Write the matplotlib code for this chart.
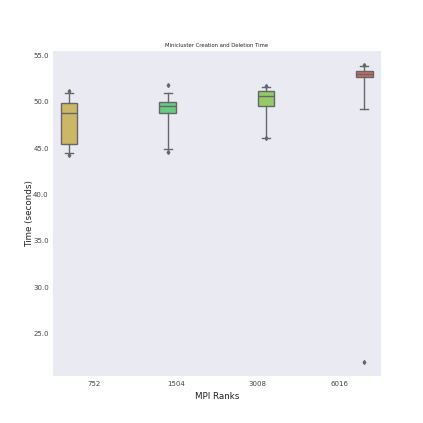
import matplotlib
matplotlib.use("Agg")
import matplotlib.pyplot as plt

# box stats (seconds)
ranks = ["752", "1504", "3008", "6016"]
q1 = [45.4, 48.8, 49.6, 52.7]
med = [48.8, 49.6, 50.6, 53.0]
q3 = [49.9, 50.0, 51.2, 53.3]
whislo = [44.5, 44.9, 46.1, 49.2]
whishi = [51.0, 50.9, 51.6, 53.9]
fliers = [[44.3, 51.2], [44.6, 51.8], [46.1, 51.7], [22.0, 54.0]]
colors = ["#cbb867", "#67cb80", "#94cb67", "#cb6a67"]

# hue-dodged positions like seaborn (4 hue levels, width .8)
offsets = [-0.3, -0.1, 0.1, 0.3]

stats = []
for i in range(len(ranks)):
    stats.append({"q1": q1[i], "med": med[i], "q3": q3[i],
                  "whislo": whislo[i], "whishi": whishi[i],
                  "fliers": fliers[i], "label": ranks[i]})

plt.rcParams["font.family"] = ["DejaVu Sans"]
fig = plt.figure(figsize=(4.23, 4.23), dpi=100)
ax = fig.add_subplot(1, 1, 1)
ax.set_facecolor("#eaeaf2")
for s in ax.spines.values():
    s.set_visible(False)

line_c = "#666666"
pos = [i + offsets[i] for i in range(len(ranks))]
bp = ax.bxp(stats, positions=pos, widths=0.2, patch_artist=True,
            boxprops=dict(edgecolor=line_c, linewidth=1.0),
            medianprops=dict(color=line_c, linewidth=1.0),
            whiskerprops=dict(color=line_c, linewidth=1.0),
            capprops=dict(color=line_c, linewidth=1.0),
            flierprops=dict(marker="d", markersize=2, markerfacecolor=line_c,
                            markeredgecolor=line_c))
for patch, c in zip(bp["boxes"], colors):
    patch.set_facecolor(c)

ax.set_xlim(-0.5, 3.5)
ax.set_xticks(range(len(ranks)))
ax.set_xticklabels(ranks)
ax.set_yticks([25, 30, 35, 40, 45, 50, 55])
ax.set_yticklabels(["25.0", "30.0", "35.0", "40.0", "45.0", "50.0", "55.0"])
ax.set_ylim(20.4, 55.5)
ax.tick_params(axis="both", length=0, labelsize=5, colors="#444444", pad=3)
ax.set_title("Minicluster Creation and Deletion Time", fontsize=3.8, color="#222222", pad=3)
ax.set_xlabel("MPI Ranks", fontsize=6.3, color="#222222", labelpad=4)
ax.set_ylabel("Time (seconds)", fontsize=6.3, color="#222222", labelpad=-0.5)

plt.savefig("out.png")
plt.close()
